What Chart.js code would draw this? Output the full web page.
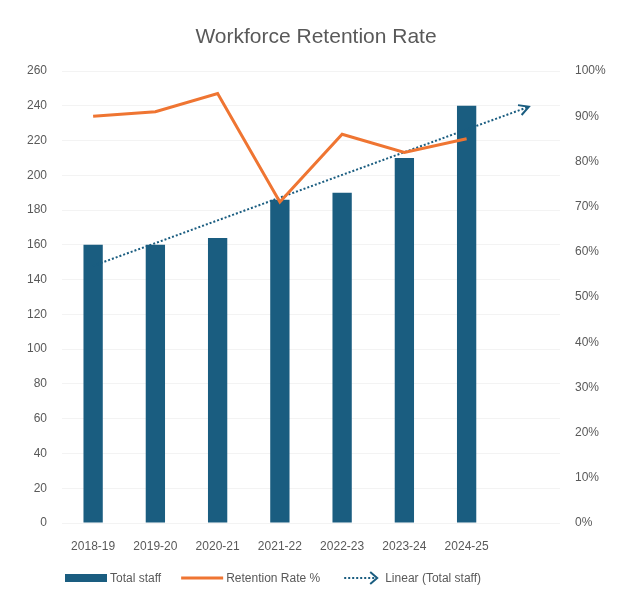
<!DOCTYPE html>
<html>
<head>
<meta charset="utf-8">
<script src="https://cdn.jsdelivr.net/npm/chart.js@4"></script>
<style>
  html, body { margin: 0; padding: 0; background: #ffffff; }
  #wrap { width: 622px; height: 590px; }
</style>
</head>
<body>
<div id="wrap"><canvas id="c" width="622" height="590"></canvas></div>
<script>
// Financial years (one extra empty slot for the trend forecast)
const years = ['2018-19', '2019-20', '2020-21', '2021-22', '2022-23', '2023-24', '2024-25', ''];
// Headcount per year
const totalStaff = [160, 160, 164, 186, 190, 210, 240];
// Retention rate per year, percent
const retentionRate = [90, 91, 95, 71, 86, 82, 85];
// Axis tick settings
const staffTicks = { min: 0, max: 260, step: 20 };
const rateTicks = { min: 0, max: 100, step: 10 };

// Least-squares linear trend of total staff, projected one period forward
function linearTrend(values, periods) {
  const n = values.length;
  const mx = (n - 1) / 2;
  const my = values.reduce((a, b) => a + b, 0) / n;
  let sxy = 0, sxx = 0;
  values.forEach((v, i) => { sxy += (i - mx) * (v - my); sxx += (i - mx) * (i - mx); });
  const slope = sxy / sxx;
  const b = my - slope * mx;
  return Array.from({ length: periods }, (_, i) => b + slope * i);
}
const trend = linearTrend(totalStaff, years.length);

const BLUE = '#1a5d80';
const ORANGE = '#ef7532';
const TEXT = '#595959';
const FONT = "'Liberation Sans', Arial, sans-serif";

// Title, trend arrowhead and legend
const decor = {
  id: 'decor',
  afterDatasetsDraw(chart) {
    const ctx = chart.ctx;
    // open arrowhead at the end of the trend line
    const meta = chart.getDatasetMeta(2);
    const pts = meta.data;
    const p1 = pts[pts.length - 2], p2 = pts[pts.length - 1];
    const ang = Math.atan2(p2.y - p1.y, p2.x - p1.x);
    ctx.save();
    ctx.strokeStyle = BLUE;
    ctx.lineWidth = 2;
    ctx.setLineDash([]);
    ctx.beginPath();
    const L = 11, spread = 0.5;
    ctx.moveTo(p2.x - L * Math.cos(ang - spread), p2.y - L * Math.sin(ang - spread));
    ctx.lineTo(p2.x, p2.y);
    ctx.lineTo(p2.x - L * Math.cos(ang + spread), p2.y - L * Math.sin(ang + spread));
    ctx.stroke();
    ctx.restore();
  },
  afterDraw(chart) {
    const ctx = chart.ctx;
    ctx.save();
    // title
    ctx.fillStyle = TEXT;
    ctx.font = "21px " + FONT;
    ctx.textAlign = 'center';
    ctx.textBaseline = 'middle';
    ctx.fillText('Workforce Retention Rate', 316, 37);

    // legend
    ctx.font = "12px " + FONT;
    ctx.textAlign = 'left';
    const y = 578;
    const items = chart.data.datasets.map(d => d.label);
    const sw = 42, gap = 3, itemGap = 20;
    const widths = items.map(t => sw + gap + ctx.measureText(t).width);
    let x = 65;
    items.forEach((t, i) => {
      if (i === 0) {
        ctx.fillStyle = BLUE;
        ctx.fillRect(x, y - 4, sw, 8);
      } else if (i === 1) {
        ctx.strokeStyle = ORANGE;
        ctx.lineWidth = 3;
        ctx.beginPath(); ctx.moveTo(x, y); ctx.lineTo(x + sw, y); ctx.stroke();
      } else {
        ctx.strokeStyle = BLUE;
        ctx.lineWidth = 2;
        ctx.setLineDash([2, 2]);
        ctx.beginPath(); ctx.moveTo(x + 4, y); ctx.lineTo(x + sw - 8, y); ctx.stroke();
        ctx.setLineDash([]);
        ctx.beginPath();
        ctx.moveTo(x + sw - 12, y - 6); ctx.lineTo(x + sw - 5, y); ctx.lineTo(x + sw - 12, y + 6);
        ctx.stroke();
      }
      ctx.fillStyle = TEXT;
      ctx.fillText(t, x + sw + gap, y + 1);
      x += widths[i] + itemGap;
    });
    ctx.restore();
  }
};

new Chart(document.getElementById('c'), {
  data: {
    labels: years,
    datasets: [
      {
        type: 'bar',
        label: 'Total staff',
        data: totalStaff,
        backgroundColor: BLUE,
        yAxisID: 'y',
        barPercentage: 0.31,
        categoryPercentage: 1,
        order: 3
      },
      {
        type: 'line',
        label: 'Retention Rate %',
        data: retentionRate,
        borderColor: ORANGE,
        borderWidth: 3,
        pointRadius: 0,
        tension: 0,
        yAxisID: 'y1',
        order: 1
      },
      {
        type: 'line',
        label: 'Linear (Total staff)',
        data: trend,
        borderColor: BLUE,
        borderWidth: 2,
        borderDash: [2, 2],
        pointRadius: 0,
        tension: 0,
        yAxisID: 'y',
        order: 2
      }
    ]
  },
  options: {
    responsive: false,
    animation: false,
    layout: { padding: { top: 71, bottom: 30, left: 0, right: 0 } },
    plugins: {
      legend: { display: false },
      title: { display: false },
      tooltip: { enabled: false }
    },
    scales: {
      x: {
        grid: { display: false },
        border: { display: false },
        ticks: { color: TEXT, font: { family: FONT, size: 12 }, padding: 8, maxRotation: 0, autoSkip: false },
        afterFit(s) { s.height = 37; }
      },
      y: {
        position: 'left',
        min: staffTicks.min, max: staffTicks.max,
        grid: { color: '#f3f3f3', drawTicks: false },
        border: { display: false },
        ticks: { stepSize: staffTicks.step, color: TEXT, font: { family: FONT, size: 12 }, padding: 15 },
        afterFit(s) { s.width = 62; }
      },
      y1: {
        position: 'right',
        min: rateTicks.min, max: rateTicks.max,
        grid: { display: false, drawTicks: false },
        border: { display: false },
        ticks: { stepSize: rateTicks.step, color: TEXT, font: { family: FONT, size: 12 }, padding: 15,
                 callback: v => v + '%' },
        afterFit(s) { s.width = 62; }
      }
    }
  },
  plugins: [decor]
});
</script>
</body>
</html>
